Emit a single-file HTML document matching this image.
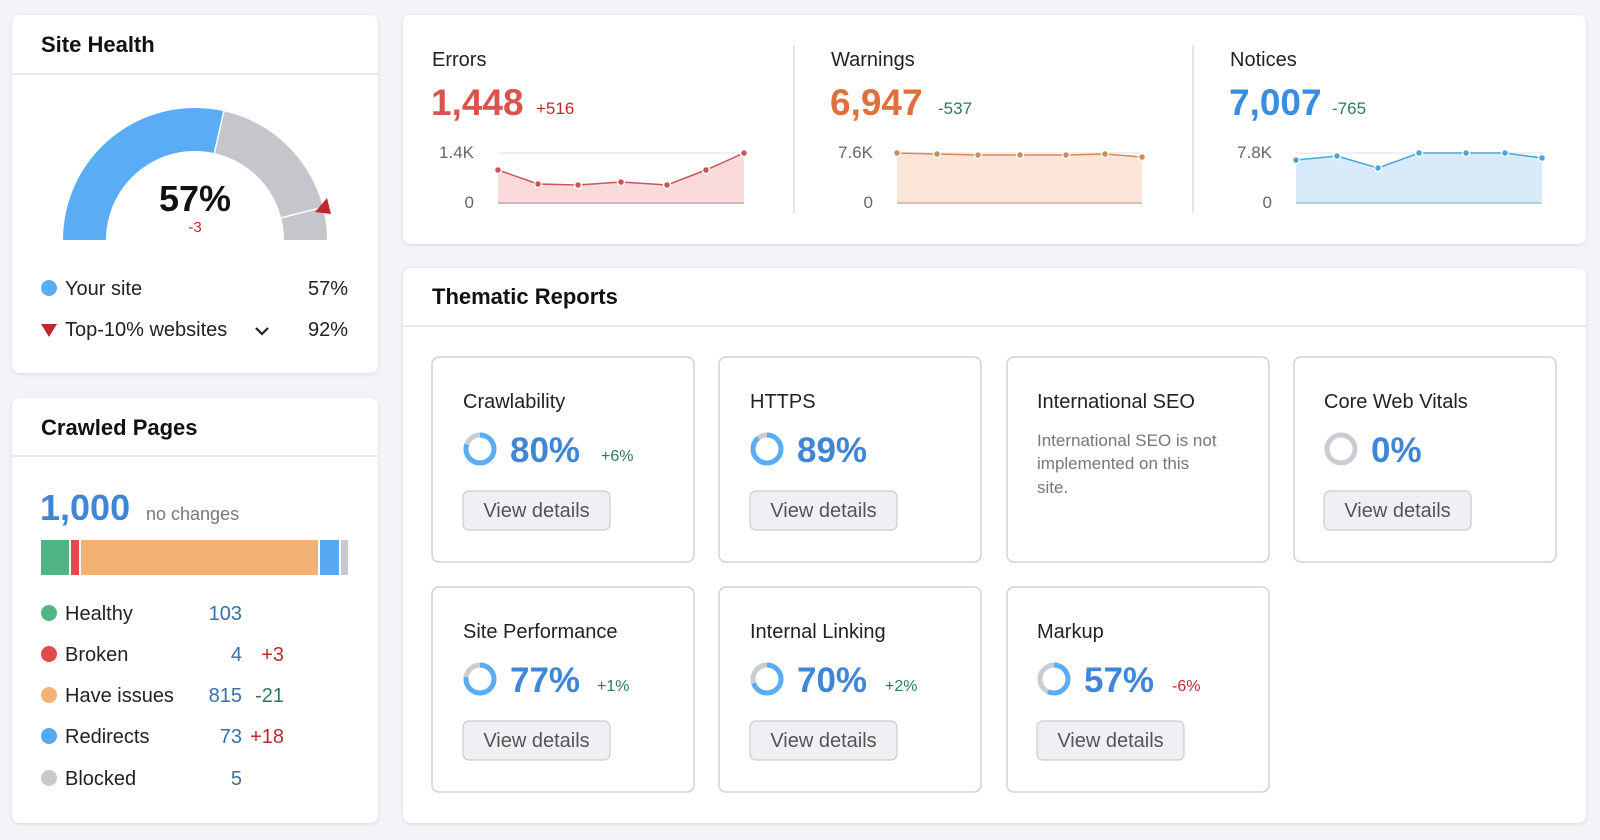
<!DOCTYPE html>
<html><head><meta charset="utf-8"><style>
html,body{margin:0;padding:0;background:#f3f4f7;}
svg{display:block;font-family:"Liberation Sans",sans-serif;}
</style></head><body>
<svg width="1600" height="840" viewBox="0 0 1600 840" xmlns="http://www.w3.org/2000/svg">
<defs>
<filter id="sh" x="-5%" y="-5%" width="110%" height="110%"><feDropShadow dx="0" dy="1" stdDeviation="1.5" flood-color="#000" flood-opacity="0.12"/></filter>
</defs>
<rect width="1600" height="840" fill="#f3f4f7"/>
<!-- cards -->
<rect x="12" y="15" width="366" height="358" rx="8" fill="#fff" filter="url(#sh)"/>
<rect x="12" y="398" width="366" height="425" rx="8" fill="#fff" filter="url(#sh)"/>
<rect x="403" y="15" width="1183" height="229" rx="8" fill="#fff" filter="url(#sh)"/>
<rect x="403" y="268" width="1183" height="555" rx="8" fill="#fff" filter="url(#sh)"/>

<!-- Site Health -->
<text x="41" y="52" font-size="22" font-weight="bold" fill="#111">Site Health</text>
<line x1="12" y1="74" x2="378" y2="74" stroke="#e2e4e8" stroke-width="1.5"/>
<path d="M63,240 A132,132 0 0 1 223.8,111.2 L214.4,153.1 A89,89 0 0 0 106,240 Z" fill="#5aacf5"/>
<path d="M223.8,111.2 A132,132 0 0 1 327,240 L284,240 A89,89 0 0 0 214.4,153.1 Z" fill="#c4c6cc"/>
<line x1="223.8" y1="111.2" x2="214.4" y2="153.1" stroke="#fff" stroke-width="1.5"/>
<line x1="322.9" y1="207.2" x2="281.2" y2="217.9" stroke="#fff" stroke-width="1.5"/>
<polygon points="315,212 331,214 327,198" fill="#c0282f"/>
<text x="195" y="211" font-size="36" font-weight="bold" fill="#111" text-anchor="middle">57%</text>
<text x="195" y="232" font-size="15" fill="#c0282f" text-anchor="middle">-3</text>
<circle cx="49" cy="288" r="8" fill="#5aacf5"/>
<text x="65" y="295" font-size="20" fill="#222">Your site</text>
<text x="348" y="295" font-size="20" fill="#222" text-anchor="end">57%</text>
<polygon points="41,324 57,324 49,337" fill="#c0282f"/>
<text x="65" y="336" font-size="20" fill="#222">Top-10% websites</text>
<polyline points="256,328 262,334 268,328" fill="none" stroke="#222" stroke-width="2.2"/>
<text x="348" y="336" font-size="20" fill="#222" text-anchor="end">92%</text>

<!-- Crawled pages -->
<text x="41" y="435" font-size="22" font-weight="bold" fill="#111">Crawled Pages</text>
<line x1="12" y1="456" x2="378" y2="456" stroke="#e2e4e8" stroke-width="1.5"/>
<text x="40" y="520" font-size="36" font-weight="bold" fill="#3f86d6">1,000</text>
<text x="146" y="520" font-size="18" fill="#777">no changes</text>
<rect x="41" y="540" width="28" height="35" fill="#4fb683"/>
<rect x="71" y="540" width="8" height="35" fill="#e04a4a"/>
<rect x="81" y="540" width="237" height="35" fill="#f2b273"/>
<rect x="320" y="540" width="19" height="35" fill="#56a8f2"/>
<rect x="341" y="540" width="7" height="35" fill="#c7c9ce"/>
<g font-size="20">
<circle cx="49" cy="613" r="8" fill="#4fb683"/><text x="65" y="620" fill="#222">Healthy</text><text x="242" y="620" fill="#3a6fa8" text-anchor="end">103</text>
<circle cx="49" cy="654" r="8" fill="#e04a4a"/><text x="65" y="661" fill="#222">Broken</text><text x="242" y="661" fill="#3a6fa8" text-anchor="end">4</text><text x="284" y="661" fill="#c0282f" text-anchor="end">+3</text>
<circle cx="49" cy="695" r="8" fill="#f2b273"/><text x="65" y="702" fill="#222">Have issues</text><text x="242" y="702" fill="#3a6fa8" text-anchor="end">815</text><text x="284" y="702" fill="#2f7a55" text-anchor="end">-21</text>
<circle cx="49" cy="736" r="8" fill="#56a8f2"/><text x="65" y="743" fill="#222">Redirects</text><text x="242" y="743" fill="#3a6fa8" text-anchor="end">73</text><text x="284" y="743" fill="#c0282f" text-anchor="end">+18</text>
<circle cx="49" cy="778" r="8" fill="#c7c9ce"/><text x="65" y="785" fill="#222">Blocked</text><text x="242" y="785" fill="#3a6fa8" text-anchor="end">5</text>
</g>

<!-- Errors/Warnings/Notices -->
<line x1="794" y1="45" x2="794" y2="213" stroke="#dcdfe3" stroke-width="1.5"/>
<line x1="1193" y1="45" x2="1193" y2="213" stroke="#dcdfe3" stroke-width="1.5"/>
<g font-size="20" fill="#222">
<text x="432" y="66">Errors</text><text x="831" y="66">Warnings</text><text x="1230" y="66">Notices</text>
</g>
<text x="431" y="115" font-size="37" font-weight="bold" fill="#d9534f">1,448</text><text x="536" y="114" font-size="17" fill="#c0282f">+516</text>
<text x="830" y="115" font-size="37" font-weight="bold" fill="#e0703a">6,947</text><text x="938" y="114" font-size="17" fill="#2f7a55">-537</text>
<text x="1229" y="115" font-size="37" font-weight="bold" fill="#3a8ee0">7,007</text><text x="1332" y="114" font-size="17" fill="#2f7a55">-765</text>
<g font-size="17" fill="#666" text-anchor="end">
<text x="474" y="158">1.4K</text><text x="474" y="208">0</text>
<text x="873" y="158">7.6K</text><text x="873" y="208">0</text>
<text x="1272" y="158">7.8K</text><text x="1272" y="208">0</text>
</g>
<g stroke="#e4e6ea" stroke-width="1.2">
<line x1="498" y1="153" x2="745" y2="153"/><line x1="897" y1="153" x2="1144" y2="153"/><line x1="1296" y1="153" x2="1543" y2="153"/>
</g>
<!-- errors series -->
<polygon points="498,203 498,170 538,184 578,185 621,182 667,185 706,170 744,153 744,203" fill="#fadada"/>
<line x1="498" y1="203" x2="744" y2="203" stroke="#d6b4b4" stroke-width="2"/>
<polyline points="498,170 538,184 578,185 621,182 667,185 706,170 744,153" fill="none" stroke="#c9555a" stroke-width="1.5"/>
<g fill="#c9555a" stroke="#fff" stroke-width="1.5"><circle cx="498" cy="170" r="3.5"/><circle cx="538" cy="184" r="3.5"/><circle cx="578" cy="185" r="3.5"/><circle cx="621" cy="182" r="3.5"/><circle cx="667" cy="185" r="3.5"/><circle cx="706" cy="170" r="3.5"/><circle cx="744" cy="153" r="3.5"/></g>
<!-- warnings -->
<polygon points="897,203 897,153 937,154 978,155 1020,155 1066,155 1105,154 1142,157 1142,203" fill="#fbe5d6"/>
<line x1="897" y1="203" x2="1142" y2="203" stroke="#dcc3b0" stroke-width="2"/>
<polyline points="897,153 937,154 978,155 1020,155 1066,155 1105,154 1142,157" fill="none" stroke="#d08a5c" stroke-width="1.5"/>
<g fill="#d08a5c" stroke="#fff" stroke-width="1.5"><circle cx="897" cy="153" r="3.5"/><circle cx="937" cy="154" r="3.5"/><circle cx="978" cy="155" r="3.5"/><circle cx="1020" cy="155" r="3.5"/><circle cx="1066" cy="155" r="3.5"/><circle cx="1105" cy="154" r="3.5"/><circle cx="1142" cy="157" r="3.5"/></g>
<!-- notices -->
<polygon points="1296,203 1296,160 1337,156 1378,168 1419,153 1466,153 1505,153 1542,158 1542,203" fill="#d7ebfa"/>
<line x1="1296" y1="203" x2="1542" y2="203" stroke="#b8cde0" stroke-width="2"/>
<polyline points="1296,160 1337,156 1378,168 1419,153 1466,153 1505,153 1542,158" fill="none" stroke="#4fa3d6" stroke-width="1.5"/>
<g fill="#4fa3d6" stroke="#fff" stroke-width="1.5"><circle cx="1296" cy="160" r="3.5"/><circle cx="1337" cy="156" r="3.5"/><circle cx="1378" cy="168" r="3.5"/><circle cx="1419" cy="153" r="3.5"/><circle cx="1466" cy="153" r="3.5"/><circle cx="1505" cy="153" r="3.5"/><circle cx="1542" cy="158" r="3.5"/></g>

<!-- Thematic -->
<text x="432" y="304" font-size="22" font-weight="bold" fill="#111">Thematic Reports</text>
<line x1="403" y1="326" x2="1586" y2="326" stroke="#e2e4e8" stroke-width="1.5"/>

<g fill="#fff" stroke="#cfd2d7" stroke-width="1.5">
<rect x="432" y="357" width="262" height="205" rx="7"/>
<rect x="719" y="357" width="262" height="205" rx="7"/>
<rect x="1007" y="357" width="262" height="205" rx="7"/>
<rect x="1294" y="357" width="262" height="205" rx="7"/>
<rect x="432" y="587" width="262" height="205" rx="7"/>
<rect x="719" y="587" width="262" height="205" rx="7"/>
<rect x="1007" y="587" width="262" height="205" rx="7"/>
</g>
<g font-size="20" fill="#222">
<text x="463" y="408">Crawlability</text>
<text x="750" y="408">HTTPS</text>
<text x="1037" y="408">International SEO</text>
<text x="1324" y="408">Core Web Vitals</text>
<text x="463" y="638">Site Performance</text>
<text x="750" y="638">Internal Linking</text>
<text x="1037" y="638">Markup</text>
</g>
<g font-size="17" fill="#777">
<text x="1037" y="446">International SEO is not</text>
<text x="1037" y="469">implemented on this</text>
<text x="1037" y="493">site.</text>
</g>
<!-- rings: r=14, circumference 87.96 -->
<g fill="none" stroke-width="5">
<circle cx="480" cy="449" r="14" stroke="#c9ccd2"/><circle cx="480" cy="449" r="14" stroke="#5aacf5" stroke-dasharray="70.4 88" transform="rotate(-90 480 449) scale(1,1)"/>
<circle cx="767" cy="449" r="14" stroke="#c9ccd2"/><circle cx="767" cy="449" r="14" stroke="#5aacf5" stroke-dasharray="78.3 88" transform="rotate(-90 767 449)"/>
<circle cx="1341" cy="449" r="14" stroke="#c9ccd2"/>
<circle cx="480" cy="679" r="14" stroke="#c9ccd2"/><circle cx="480" cy="679" r="14" stroke="#5aacf5" stroke-dasharray="67.7 88" transform="rotate(-90 480 679)"/>
<circle cx="767" cy="679" r="14" stroke="#c9ccd2"/><circle cx="767" cy="679" r="14" stroke="#5aacf5" stroke-dasharray="61.6 88" transform="rotate(-90 767 679)"/>
<circle cx="1054" cy="679" r="14" stroke="#c9ccd2"/><circle cx="1054" cy="679" r="14" stroke="#5aacf5" stroke-dasharray="50.1 88" transform="rotate(-90 1054 679)"/>
</g>
<g font-size="35" font-weight="bold" fill="#3f86d6">
<text x="510" y="462">80%</text>
<text x="797" y="462">89%</text>
<text x="1371" y="462">0%</text>
<text x="510" y="692">77%</text>
<text x="797" y="692">70%</text>
<text x="1084" y="692">57%</text>
</g>
<g font-size="16">
<text x="601" y="461" fill="#2f7a55">+6%</text>
<text x="597" y="691" fill="#2f7a55">+1%</text>
<text x="885" y="691" fill="#2f7a55">+2%</text>
<text x="1172" y="691" fill="#c0282f">-6%</text>
</g>
<g fill="#eef0f3" stroke="#c8ccd2" stroke-width="1.2">
<rect x="463" y="491" width="147" height="39" rx="6"/>
<rect x="750" y="491" width="147" height="39" rx="6"/>
<rect x="1324" y="491" width="147" height="39" rx="6"/>
<rect x="463" y="721" width="147" height="39" rx="6"/>
<rect x="750" y="721" width="147" height="39" rx="6"/>
<rect x="1037" y="721" width="147" height="39" rx="6"/>
</g>
<g font-size="20" fill="#555" text-anchor="middle">
<text x="536.5" y="517">View details</text>
<text x="823.5" y="517">View details</text>
<text x="1397.5" y="517">View details</text>
<text x="536.5" y="747">View details</text>
<text x="823.5" y="747">View details</text>
<text x="1110.5" y="747">View details</text>
</g>
</svg>
</body></html>
